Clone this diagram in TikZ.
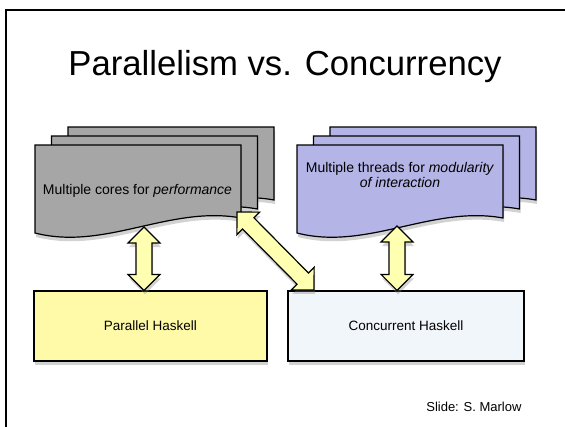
\documentclass[tikz,border=0pt]{standalone}
\usepackage{fontspec}
\setmainfont{Liberation Sans}
\usetikzlibrary{calc,shadows}
\definecolor{docgray}{RGB}{166,166,166}
\definecolor{docpurple}{RGB}{180,180,230}
\definecolor{paryellow}{RGB}{255,250,168}
\definecolor{conblue}{RGB}{241,246,250}
\definecolor{arrowyellow}{RGB}{255,255,178}
\tikzset{
  frame/.style={draw=black, line width=2pt},
  softshadow/.style={drop shadow={shadow xshift=1pt, shadow yshift=-4pt, opacity=0.35}},
  docshape/.style={draw=black, line width=1.2pt, softshadow},
  box/.style={draw=black, line width=1.2pt, softshadow, minimum height=70pt, inner sep=0pt, font=\fontsize{13.5}{16}\selectfont},
  doctext/.style={font=\fontsize{14}{15}\selectfont, align=center, anchor=base},
  fatarrowstyle/.style={draw=black, line width=1.2pt, fill=arrowyellow, line join=miter, softshadow},
}
\newcommand\docpath[3]{%
  \draw[docshape, fill=#3, shift={(#1,#2)}] (0,0) -- (206,0) -- (206,73)
    .. controls (135,60) and (70,106) .. (0,88) -- cycle;}
\newcommand\fatarrow[2]{%
  \coordinate (hA) at ($(#1)!16pt!(#2)$);
  \coordinate (hB) at ($(#2)!16pt!(#1)$);
  \draw[fatarrowstyle] (#1) -- ($(hA)!16pt!90:(#2)$) -- ($(hA)!8pt!90:(#2)$)
    -- ($(hB)!8pt!-90:(#1)$) -- ($(hB)!16pt!-90:(#1)$) -- (#2)
    -- ($(hB)!16pt!90:(#1)$) -- ($(hB)!8pt!90:(#1)$)
    -- ($(hA)!8pt!-90:(#2)$) -- ($(hA)!16pt!-90:(#2)$) -- cycle;}
\begin{document}
\begin{tikzpicture}[x=1pt, y=-1pt]
  \useasboundingbox (0,0) rectangle (565,426);
  \clip (0,0) rectangle (565,426);
  \fill[white] (0,0) rectangle (565,426);
  \draw[frame] (6,10) rectangle (580,440);
  % title
  \node[anchor=base, font=\fontsize{34.7}{40}\selectfont] (title) at (285,75) {Parallelism vs. Concurrency};
  % left stack
  \docpath{68}{127}{docgray}
  \docpath{51.5}{136}{docgray}
  \docpath{35}{145}{docgray}
  \node[doctext] (cores) at (137.5,194) {Multiple cores for \textit{performance}};
  % right stack
  \docpath{330}{127}{docpurple}
  \docpath{313.5}{136}{docpurple}
  \docpath{297}{145}{docpurple}
  \node[doctext] (threads) at (400,187) {Multiple threads for \textit{modularity}\\\textit{of interaction}};
  % boxes
  \node[box, fill=paryellow, minimum width=233pt] (par) at (150.5,326) {Parallel Haskell};
  \node[box, fill=conblue, minimum width=236pt] (con) at (406,326) {Concurrent Haskell};
  % arrows
  \coordinate (a1t) at (144,227);
  \coordinate (a1b) at (par.north -| a1t);
  \coordinate (a2t) at (397,226);
  \coordinate (a2b) at (con.north -| a2t);
  \coordinate (a3t) at (237,212);
  \coordinate (a3b) at (314,290);
  \fatarrow{a1t}{a1b}
  \fatarrow{a2t}{a2b}
  \fatarrow{a3t}{a3b}
  % credit
  \node[anchor=base east, font=\fontsize{13}{15}\selectfont] (credit) at (525,411) {Slide: S. Marlow};
\end{tikzpicture}
\end{document}
